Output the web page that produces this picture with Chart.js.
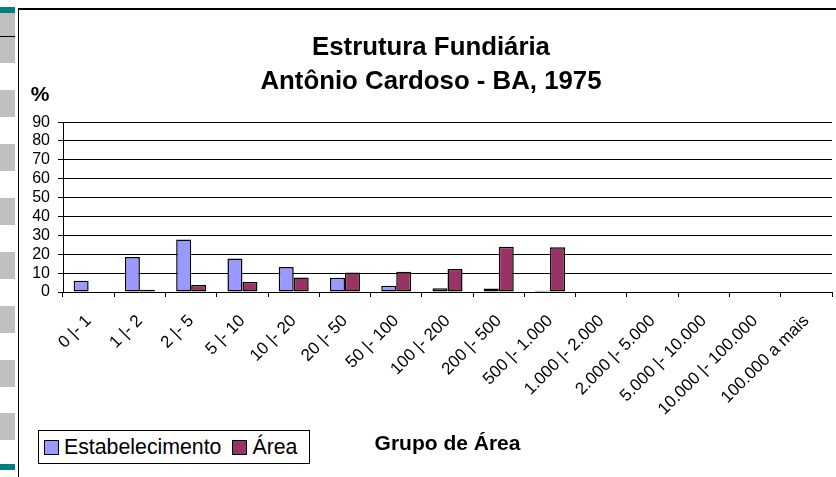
<!DOCTYPE html>
<html lang="pt-BR">
<head>
<meta charset="utf-8">
<title>Estrutura Fundiária - Antônio Cardoso - BA, 1975</title>
<script src="https://cdn.jsdelivr.net/npm/chart.js@4/dist/chart.umd.min.js"></script>
<style>
    html, body {
        margin: 0;
        padding: 0;
        background: #fff;
    }
    .page {
        position: relative;
        width: 836px;
        height: 477px;
        overflow: hidden;
        font-family: 'Liberation Sans', Arial, sans-serif;
    }
    .strip {
        position: absolute;
        left: 0;
        width: 15px;
        background: #c0c0c0;
    }
    .strip.teal {
        background: #008080;
    }
    .frame {
        position: absolute;
        left: 18px;
        top: 8px;
        right: 0;
        bottom: 0;
        border-left: 1px solid #000;
        border-top: 2px solid #000;
    }
    #chartBox {
        position: absolute;
        left: 0;
        top: 0;
        width: 836px;
        height: 477px;
    }
    .legend {
        position: absolute;
        left: 38px;
        top: 430px;
        width: 270px;
        height: 32px;
        border: 1px solid #000;
        display: flex;
        align-items: center;
        font-size: 21.3px;
        color: #000;
        background: #fff;
    }
    .legend-item {
        display: flex;
        align-items: center;
        margin-left: 5px;
    }
    .legend-item + .legend-item {
        margin-left: 11px;
    }
    .legend-swatch {
        width: 13px;
        height: 13px;
        border: 1px solid #000;
        margin-right: 5px;
    }
</style>
</head>
<body>
<div class="page">
    <div class="strip teal" style="top:7px;height:6px"></div>
    <div class="strip" style="top:13px;height:50px"></div>
    <div class="strip" style="top:36px;height:1px;background:#000"></div>
    <div class="strip" style="top:90px;height:27px"></div>
    <div class="strip" style="top:144px;height:27px"></div>
    <div class="strip" style="top:198px;height:27px"></div>
    <div class="strip" style="top:252px;height:27px"></div>
    <div class="strip" style="top:306px;height:27px"></div>
    <div class="strip" style="top:360px;height:27px"></div>
    <div class="strip" style="top:413px;height:27px"></div>
    <div class="strip teal" style="top:464px;height:6px"></div>
    <div class="frame"></div>
    <div id="chartBox"><canvas id="fundiariaChart"></canvas></div>
    <div class="legend" id="legend"></div>
</div>

<script>
// Dados (percentual)
const grupos = ['0 |- 1', '1 |- 2', '2 |- 5', '5 |- 10', '10 |- 20', '20 |- 50', '50 |- 100',
    '100 |- 200', '200 |- 500', '500 |- 1.000', '1.000 |- 2.000', '2.000 |- 5.000',
    '5.000 |- 10.000', '10.000 |- 100.000', '100.000 a mais'];
const estabelecimento = [5.9, 18.5, 27.8, 17.7, 13.2, 7.5, 3.3, 2.0, 1.8, 0.6, 0, 0, 0, 0, 0];
const area = [0.3, 1.2, 3.7, 5.3, 7.7, 10.3, 10.7, 12.2, 24.0, 23.7, 0, 0, 0, 0, 0];
const yTicks = [0, 10, 20, 30, 40, 50, 60, 70, 80, 90];

const FONT = "'Liberation Sans', Arial, sans-serif";
Chart.defaults.font.family = FONT;
Chart.defaults.color = '#000';

// "%" acima do eixo Y
const percentLabel = {
    id: 'percentLabel',
    afterDraw(chart) {
        const ctx = chart.ctx;
        const area = chart.chartArea;
        ctx.save();
        ctx.font = 'bold 21px ' + FONT;
        ctx.fillStyle = '#000';
        ctx.textAlign = 'center';
        ctx.textBaseline = 'middle';
        ctx.fillText('%', area.left - 23, area.top - 27);
        ctx.restore();
    }
};

const ctx = document.getElementById('fundiariaChart').getContext('2d');
const fundiariaChart = new Chart(ctx, {
    type: 'bar',
    data: {
        labels: grupos,
        datasets: [
            {
                label: 'Estabelecimento',
                data: estabelecimento,
                backgroundColor: '#9999ff',
                borderColor: '#000',
                borderWidth: 1.5,
                borderSkipped: false
            },
            {
                label: 'Área',
                data: area,
                backgroundColor: '#993366',
                borderColor: '#000',
                borderWidth: 1.5,
                borderSkipped: false
            }
        ]
    },
    options: {
        responsive: true,
        maintainAspectRatio: false,
        animation: false,
        layout: {
            padding: { left: 30, right: 4, top: 0, bottom: 0 }
        },
        datasets: {
            bar: {
                categoryPercentage: 0.585,
                barPercentage: 1.0
            }
        },
        scales: {
            x: {
                afterFit(scale) { scale.height = 185; },
                grid: {
                    display: true,
                    drawOnChartArea: false,
                    offset: true,
                    color: '#000',
                    tickLength: 5
                },
                border: { color: '#000', width: 1 },
                ticks: {
                    autoSkip: false,
                    minRotation: 45,
                    maxRotation: 45,
                    padding: 14,
                    font: { size: 17 }
                },
                title: {
                    display: true,
                    text: 'Grupo de Área',
                    font: { size: 21, weight: 'bold' },
                    padding: { top: 0, bottom: 20 }
                }
            },
            y: {
                min: 0,
                max: 90,
                afterFit(scale) { scale.width = 33; },
                afterBuildTicks(scale) {
                    scale.ticks = yTicks.map(v => ({ value: v }));
                },
                grid: {
                    color: '#000',
                    tickLength: 5
                },
                border: { color: '#000', width: 1 },
                ticks: {
                    autoSkip: false,
                    padding: 8,
                    font: { size: 16, lineHeight: 1 }
                }
            }
        },
        plugins: {
            legend: { display: false },
            tooltip: { enabled: false },
            title: {
                display: true,
                text: ['Estrutura Fundiária', 'Antônio Cardoso - BA, 1975'],
                font: { size: 25.8, weight: 'bold', lineHeight: 1.32 },
                color: '#000',
                padding: { top: 31, bottom: 23 }
            }
        }
    },
    plugins: [percentLabel]
});

// Legenda na caixa do canto inferior
const legendBox = document.getElementById('legend');
fundiariaChart.data.datasets.forEach(ds => {
    const item = document.createElement('div');
    item.className = 'legend-item';
    const swatch = document.createElement('span');
    swatch.className = 'legend-swatch';
    swatch.style.background = ds.backgroundColor;
    const text = document.createElement('span');
    text.textContent = ds.label;
    item.appendChild(swatch);
    item.appendChild(text);
    legendBox.appendChild(item);
});
</script>
</body>
</html>
